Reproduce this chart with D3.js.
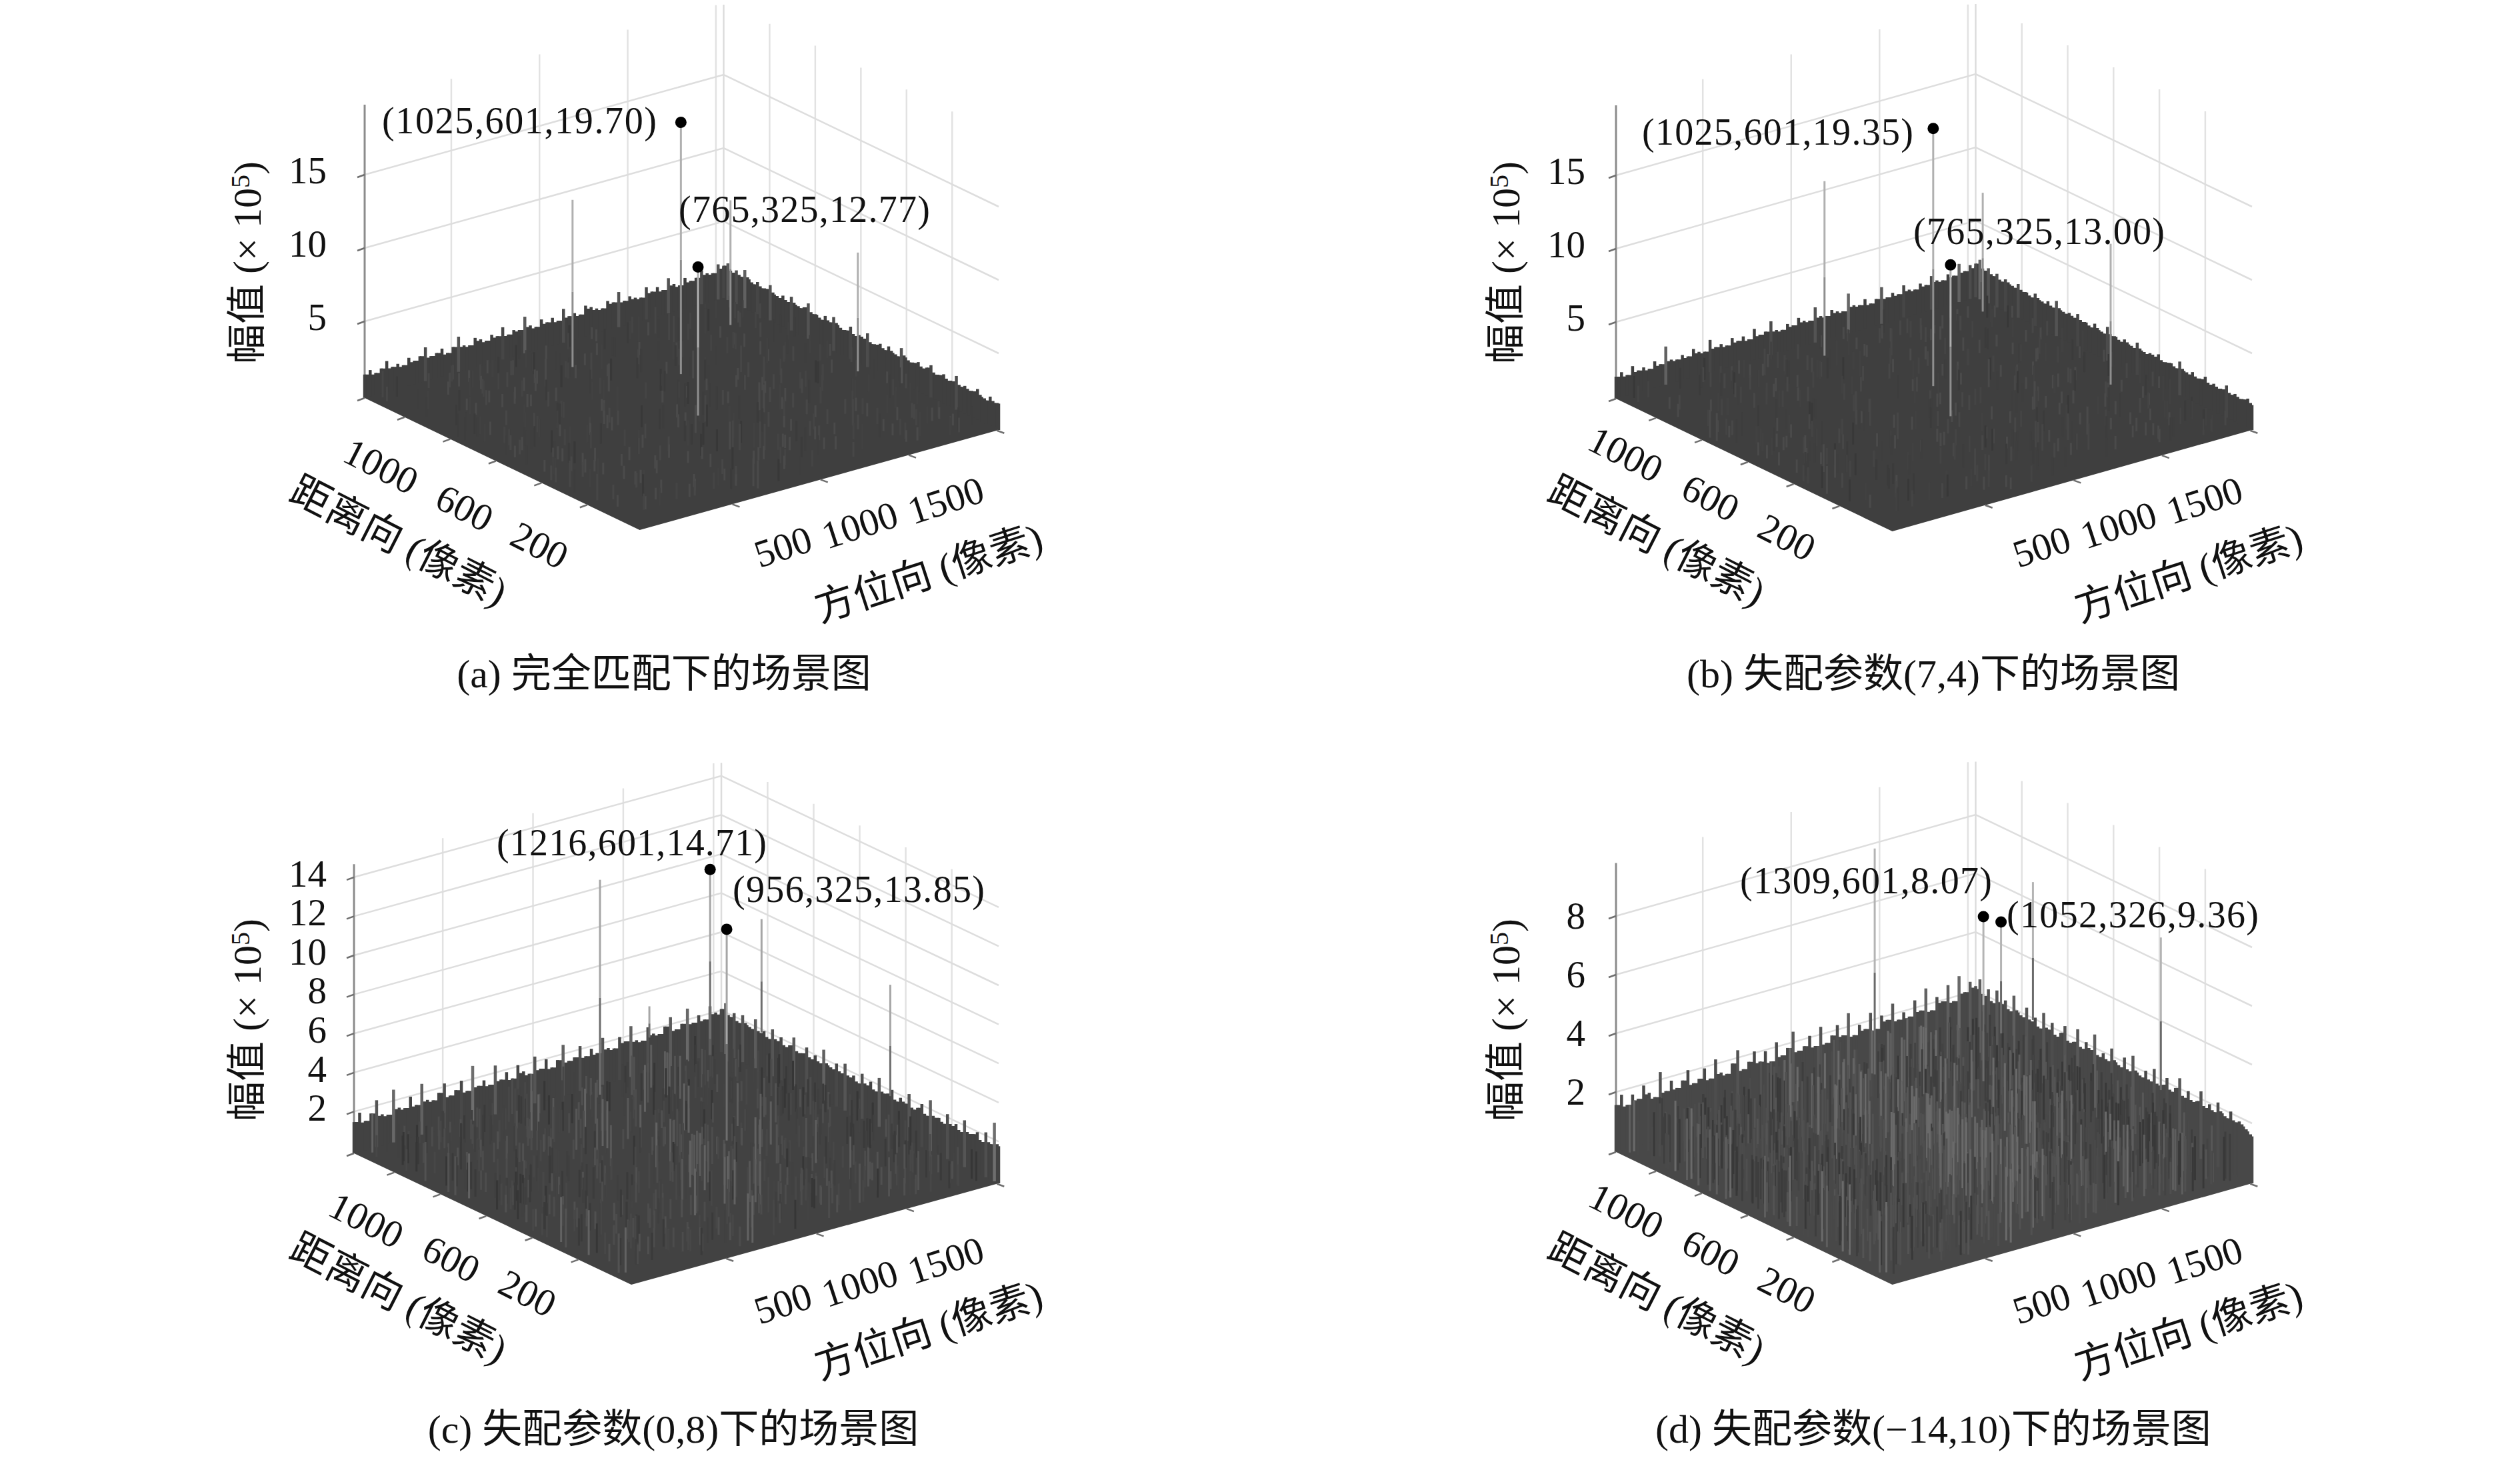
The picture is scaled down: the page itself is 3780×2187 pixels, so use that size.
<!DOCTYPE html>
<html>
<head>
<meta charset="utf-8">
<script src="https://cdn.jsdelivr.net/npm/d3@7"></script>
<style>
  body { margin: 0; background: #fff; }
  text { font-family: "Liberation Serif", "Noto Sans CJK SC", serif; fill: #111; }
</style>
</head>
<body>
<script>
// axis ticks
var azTicks = [500, 1000, 1500, 2000];
var azTickLabels = [500, 1000, 1500];
var rgTicks = [200, 400, 600, 800, 1000];
var rgTickLabels = [1000, 600, 200];
var zTicksAB = [5, 10, 15];
var zTicksC = [2, 4, 6, 8, 10, 12, 14];
var zTicksD = [2, 4, 6, 8];
var azDomain = [-25, 2010];
var rgDomain = [-30, 1175];

// tall scatterers: azimuth, range, top, where the line fades into the clutter (x10^5)
var peaksA = [[1025, 601, 19.70, 2.4], [765, 325, 12.77, 2.5], [689, 816, 13.8, 2.4], [1570, 805, 10.9, 2.4], [1680, 332, 10.5, 2.4]];
var peaksB = [[1025, 601, 19.35, 1.6], [765, 325, 13.00, 2.5], [689, 816, 15.1, 3.2], [1570, 805, 11.4, 3.3], [1680, 332, 11.1, 1.5]];
var peaksC = [[1216, 601, 14.71, 5.9], [956, 325, 13.85, 2.9], [880, 816, 13.7, 2.7], [1761, 805, 9.5, 3.7], [1871, 332, 8.5, 2.8], [1605, 1170, 3.4, 1.8]];
var peaksD = [[1309, 601, 8.07, 2.3], [1052, 326, 9.36, 5.4], [973, 816, 10.0, 2.3], [1854, 805, 7.4, 2.7], [1964, 332, 7.1, 1.9]];

// clutter heights along the far edges (x10^5): az edge runs left corner -> back, rg edge runs back -> right corner
var edgeAzA = [1.6,1.8,1.5,1.7,2.1,1.6,1.7,1.5,1.9,1.6,1.8,2.3,1.6,1.7,1.9,1.5,1.8,2.4,1.7,1.6,2.0,1.8,1.6,1.9,1.7,2.2,1.6,1.8,1.7,2.5,1.8,1.6,2.0,1.7,1.9,1.6,2.3,1.7,1.8,1.6,2.1,1.9,1.7,1.6,2.0,1.8,2.4,1.7,1.9,1.7,1.6,2.2,1.8,2.0,1.7,2.4,1.9,1.7,2.1,1.8,1.9,2.3,2.0,1.9,2.4,2.1];
var edgeRgA = [2.2,2.5,2.0,2.3,2.0,2.6,2.1,1.9,2.2,1.9,2.0,2.4,1.9,1.8,2.1,1.8,2.3,1.9,1.8,2.0,2.4,1.8,1.9,1.7,2.1,1.8,2.3,1.9,1.7,1.8,2.2,1.7,1.9,1.8,2.3,1.7,1.8,2.0,1.7,2.1,1.8,1.7,2.4,1.9,1.7,1.8,2.0,1.7,1.9,2.2,1.7,1.8,2.0,1.7,1.8,2.3,1.7,1.9,1.7,1.8,2.1,1.7,1.6,2.0,1.7,1.8];
var edgeAzB = [1.5,1.7,1.4,1.9,1.5,1.6,1.4,1.8,1.5,2.6,1.6,1.5,1.7,1.5,1.9,1.6,1.5,2.2,1.6,1.7,1.5,1.9,1.6,1.8,1.5,2.1,1.6,1.7,2.3,1.6,1.5,1.8,1.6,2.0,1.7,1.6,2.4,1.7,1.6,1.9,1.7,1.6,2.7,1.8,1.7,2.0,1.6,1.8,2.5,1.7,1.9,1.7,2.2,1.8,1.7,2.0,1.8,2.3,1.9,1.8,2.1,1.9,2.6,2.0,2.3,2.1];
var edgeRgB = [2.3,2.7,2.1,2.4,2.0,2.3,1.9,2.2,2.0,1.9,2.3,1.9,2.0,1.8,2.2,1.9,1.8,2.1,1.8,2.4,1.9,1.8,2.0,1.8,2.2,1.8,1.9,1.7,2.1,1.8,1.7,2.3,1.8,1.9,1.7,2.0,1.8,1.7,2.2,1.8,1.7,1.9,1.8,2.1,1.7,1.8,1.9,1.7,2.3,1.8,1.7,2.0,1.7,1.8,2.1,1.7,1.9,1.7,1.8,2.2,1.7,1.9,1.7,1.8,2.0,1.7];
var edgeAzC = [1.6,2.0,1.5,1.8,2.4,1.6,1.5,2.7,1.7,1.6,2.1,1.6,2.6,1.7,1.6,1.9,2.3,1.6,1.8,2.2,1.6,2.8,1.7,1.9,1.6,2.5,1.7,2.0,1.6,2.2,1.8,1.6,2.4,1.7,2.1,1.6,1.9,2.6,1.7,1.8,2.3,1.7,2.0,1.7,2.4,1.8,1.7,2.2,1.9,2.6,1.8,1.7,2.3,1.9,1.8,2.1,2.5,1.8,2.0,2.7,1.9,2.2,1.9,2.5,2.1,2.0];
var edgeRgC = [2.2,2.6,2.0,2.3,1.9,2.4,2.0,1.9,2.5,1.9,2.1,1.8,2.4,1.9,2.2,1.8,2.0,2.5,1.8,1.9,2.3,1.8,2.1,1.8,2.6,1.9,1.8,2.2,1.8,2.4,1.8,2.0,1.7,2.3,1.8,2.1,1.7,2.5,1.8,1.9,2.2,1.7,2.0,1.8,2.4,1.7,1.9,2.2,1.7,2.6,1.8,1.9,1.7,2.3,1.8,2.0,1.7,2.4,1.8,1.9,2.1,1.7,2.3,1.8,3.0,1.9];
var edgeAzD = [1.6,1.9,1.5,1.8,1.6,2.0,1.7,1.5,2.3,1.6,1.9,1.6,1.8,2.1,1.6,1.7,2.0,1.6,2.2,1.7,1.6,1.9,2.3,1.6,1.8,2.1,1.7,2.0,1.6,2.2,1.7,1.9,2.4,1.7,1.8,2.1,1.7,2.3,1.7,1.9,2.2,1.8,2.5,1.7,2.0,1.8,2.3,1.7,2.1,1.9,2.4,1.8,2.0,1.8,2.3,1.9,2.6,1.8,2.2,2.0,2.5,1.9,2.7,2.1,2.4,2.2];
var edgeRgD = [2.1,2.5,2.0,2.3,1.9,2.4,2.0,2.2,1.9,2.5,2.0,1.9,2.3,1.9,2.1,1.8,2.4,1.9,2.2,1.8,2.0,2.3,1.8,1.9,2.4,1.8,2.1,1.9,2.5,1.8,2.0,1.8,2.3,1.9,1.8,2.2,1.8,2.4,1.9,1.8,2.1,1.8,2.3,1.8,1.9,2.2,1.8,2.0,2.4,1.8,2.1,1.8,1.9,2.3,1.8,2.0,1.8,2.2,1.9,1.8,2.1,1.8,1.9,1.8,1.7,1.6];

// streaks inside the clutter carpet
var streakAz = [120,880,1530,340,1960,610,1210,45,1720,960,410,1390,780,1850,230,1090,1640,520,1300,70,
1480,690,1930,300,1150,850,1590,480,30,1770,1020,640,1350,190,1880,760,1440,370,920,1680,
550,1260,100,1990,820,1110,440,1570,260,1820,710,1400,150,990,1660,590,1240,20,1510,870,
330,1750,1040,470,1910,670,1330,210,1610,930,390,1180,1790,80,1460,750,1070,510,1860,280,
1550,800,1280,140,1700,1000,430,1950,620,1370,240,1130,1620,570,900,1840,60,1420,730,1200,
360,1740,1060,490,1900,650,1310,170,1500,950,310,1670,840,1230,110,1980,700,1380,540,1800,
1010,220,1580,400,1160,1890,780,1450,90,1290,1710,600,980,1520,250,1830,680,1100,460,1640];
var streakRg = [300,950,120,700,420,1080,560,210,860,30,1130,640,380,980,80,740,260,1010,470,590,
900,160,660,1060,340,820,50,530,1120,720,230,940,400,610,130,1040,280,780,500,1000,
90,670,870,360,1150,190,560,990,440,750,20,910,620,310,1090,450,140,800,680,1030,
240,540,960,110,720,380,1070,490,850,270,640,1010,170,430,580,1110,60,930,330,790,
1000,520,210,690,890,350,1140,40,610,760,460,1050,100,830,290,570,970,150,710,400,
1100,250,640,860,510,70,920,370,1020,180,730,480,300,1130,600,840,220,1060,410,120,
670,950,500,80,880,340,1090,560,770,200,1010,440,130,620,900,280,1070,730,390,530];
var streakZA = [1.2,0.9,1.6,1.1,0.8,1.4,1.0,1.8,0.9,1.3,1.1,0.8,1.7,1.0,1.2,1.5,0.9,1.1,1.9,0.8,
1.3,1.0,1.2,0.9,1.6,1.1,0.8,1.4,1.0,1.2,1.8,0.9,1.1,1.3,0.8,1.5,1.0,1.2,0.9,1.7,
1.1,0.8,1.4,1.0,1.6,0.9,1.2,1.1,0.8,1.3,1.9,1.0,0.9,1.5,1.1,1.2,0.8,1.6,1.0,1.3,
0.9,1.1,1.7,0.8,1.2,1.0,1.4,0.9,1.1,1.8,0.8,1.3,1.0,1.2,0.9,1.5,1.1,0.8,1.6,1.0,
1.2,1.4,0.9,1.1,0.8,1.7,1.0,1.3,0.9,1.2,1.5,0.8,1.1,1.0,1.9,0.9,1.3,1.1,0.8,1.4,
1.0,1.2,1.6,0.9,1.1,0.8,1.3,1.0,1.8,0.9,1.2,1.1,1.5,0.8,1.0,1.3,0.9,1.7,1.1,1.2,
0.8,1.4,1.0,0.9,1.6,1.1,1.2,0.8,1.3,1.0,1.5,0.9,1.1,1.8,0.8,1.2,1.0,1.4,0.9,1.1];
var streakZB = [1.0,1.4,0.8,1.2,1.7,0.9,1.1,1.5,0.8,1.3,1.0,1.9,0.9,1.2,1.1,0.8,1.6,1.0,1.3,0.9,
1.1,1.8,0.8,1.4,1.0,1.2,0.9,1.5,1.1,0.8,1.3,1.0,1.7,0.9,1.2,1.1,0.8,1.6,1.0,1.3,
0.9,1.4,1.1,0.8,1.2,1.8,1.0,0.9,1.5,1.1,0.8,1.3,1.6,1.0,0.9,1.2,1.1,1.9,0.8,1.0,
1.4,0.9,1.2,1.1,1.7,0.8,1.0,1.3,0.9,1.5,1.1,0.8,1.2,1.6,1.0,0.9,1.3,1.1,0.8,1.4,
1.0,0.9,1.8,1.2,1.1,0.8,1.5,1.0,1.3,0.9,1.1,1.7,0.8,1.2,1.0,1.4,0.9,1.6,1.1,0.8,
1.3,1.0,0.9,1.2,1.5,1.1,0.8,1.9,1.0,1.3,0.9,1.4,1.1,0.8,1.2,1.0,1.6,0.9,1.3,1.1,
1.7,0.8,1.2,1.0,0.9,1.4,1.1,1.5,0.8,1.3,1.0,0.9,1.6,1.1,1.2,0.8,1.8,1.0,1.3,0.9];
var streakZC = [1.4,1.0,2.0,1.2,0.9,1.7,1.1,2.3,1.0,1.5,1.3,0.9,2.1,1.1,1.4,1.8,1.0,1.3,2.4,0.9,
1.5,1.1,1.4,1.0,1.9,1.2,0.9,1.6,1.1,1.4,2.2,1.0,1.3,1.5,0.9,1.8,1.1,1.4,1.0,2.0,
1.3,0.9,1.7,1.1,1.9,1.0,1.4,1.2,0.9,1.5,2.4,1.1,1.0,1.8,1.2,1.4,0.9,2.0,1.1,1.5,
1.0,1.3,2.1,0.9,1.4,1.1,1.7,1.0,1.2,2.3,0.9,1.5,1.1,1.4,1.0,1.8,1.2,0.9,1.9,1.1,
1.4,1.7,1.0,1.3,0.9,2.1,1.1,1.5,1.0,1.4,1.8,0.9,1.2,1.1,2.4,1.0,1.5,1.3,0.9,1.7,
1.1,1.4,1.9,1.0,1.2,0.9,1.5,1.1,2.2,1.0,1.4,1.3,1.8,0.9,1.1,1.5,1.0,2.0,1.2,1.4,
0.9,1.7,1.1,1.0,1.9,1.3,1.4,0.9,1.5,1.1,1.8,1.0,1.3,2.2,0.9,1.4,1.1,1.7,1.0,1.2];
var streakZD = [1.5,1.1,2.1,1.3,1.0,1.8,1.2,2.4,1.1,1.6,1.4,1.0,2.2,1.2,1.5,1.9,1.1,1.4,2.5,1.0,
1.6,1.2,1.5,1.1,2.0,1.3,1.0,1.7,1.2,1.5,2.3,1.1,1.4,1.6,1.0,1.9,1.2,1.5,1.1,2.1,
1.4,1.0,1.8,1.2,2.0,1.1,1.5,1.3,1.0,1.6,2.5,1.2,1.1,1.9,1.3,1.5,1.0,2.1,1.2,1.6,
1.1,1.4,2.2,1.0,1.5,1.2,1.8,1.1,1.3,2.4,1.0,1.6,1.2,1.5,1.1,1.9,1.3,1.0,2.0,1.2,
1.5,1.8,1.1,1.4,1.0,2.2,1.2,1.6,1.1,1.5,1.9,1.0,1.3,1.2,2.5,1.1,1.6,1.4,1.0,1.8,
1.2,1.5,2.0,1.1,1.3,1.0,1.6,1.2,2.3,1.1,1.5,1.4,1.9,1.0,1.2,1.6,1.1,2.1,1.3,1.5,
1.0,1.8,1.2,1.1,2.0,1.4,1.5,1.0,1.6,1.2,1.9,1.1,1.4,2.3,1.0,1.5,1.2,1.8,1.1,1.3];

var panels = [
  { title: "(a) 完全匹配下的场景图", capX: 996, capY: 1010,
    L: [547, 597], F: [959.5, 795], R: [1498, 645], zUnit: 22, zMax: 20, gridDy: -5, peakDy: 3,
    zTicks: zTicksAB, zLabelX: 490, zLabelDy: -6, peaks: peaksA, edgeAz: edgeAzA, edgeRg: edgeRgA, streakZ: streakZA,
    fill: "#3f3f3f", streakCol: ["#4a4a4a", "#383838", "#5c5c5c"], layers: [0, 37, 71], peakTop: "#b0b0b0", peakLow: "#8e8e8e",
    notes: [["(1025,601,19.70)", 573, 985, 200], ["(765,325,12.77)", 1018, 1395, 333]],
    yLab: [371, 394], rgLab: [598, 812], azLab: [1393, 860],
    rgEnd: [[623, 726], [848, 838]], azEnd: [[1216, 807], [1474, 733]] },
  { title: "(b) 失配参数(7,4)下的场景图", capX: 2900, capY: 1010,
    L: [2424, 598], F: [2838.5, 797], R: [3378, 645], zUnit: 22, zMax: 20, gridDy: -5, peakDy: 4,
    zTicks: zTicksAB, zLabelX: 2378, zLabelDy: -6, peaks: peaksB, edgeAz: edgeAzB, edgeRg: edgeRgB, streakZ: streakZB,
    fill: "#3f3f3f", streakCol: ["#4a4a4a", "#383838", "#5c5c5c"], layers: [0, 37, 71], peakTop: "#b0b0b0", peakLow: "#8e8e8e",
    notes: [["(1025,601,19.35)", 2463, 2870, 217], ["(765,325,13.00)", 2870, 3247, 366]],
    yLab: [2259, 394], rgLab: [2485, 812], azLab: [3283, 860],
    rgEnd: [[2490, 708], [2719, 826]], azEnd: [[3104, 807], [3362, 733]] },
  { title: "(c) 失配参数(0,8)下的场景图", capX: 1010, capY: 2143,
    L: [531, 1730], F: [947, 1927], R: [1498, 1775], zUnit: 29.3, zMax: 14.8, gridDy: -4, peakDy: 4,
    zTicks: zTicksC, zLabelX: 490, zLabelDy: -5, peaks: peaksC, edgeAz: edgeAzC, edgeRg: edgeRgC, streakZ: streakZC,
    fill: "#424242", streakCol: ["#505050", "#363636", "#626262"], layers: [0, 19, 37, 71, 103], peakTop: "#a6a6a6", peakLow: "#6e6e6e",
    notes: [["(1216,601,14.71)", 745, 1150, 1283], ["(956,325,13.85)", 1099, 1477, 1353]],
    yLab: [371, 1530], rgLab: [598, 1948], azLab: [1393, 1996],
    rgEnd: [[601, 1857], [830, 1960]], azEnd: [[1216, 1942], [1474, 1873]] },
  { title: "(d) 失配参数(−14,10)下的场景图", capX: 2900, capY: 2143,
    L: [2424, 1728], F: [2838.5, 1927], R: [3378, 1775], zUnit: 44, zMax: 9.85, gridDy: -2, peakDy: 7,
    zTicks: zTicksD, zLabelX: 2378, zLabelDy: 0, peaks: peaksD, edgeAz: edgeAzD, edgeRg: edgeRgD, streakZ: streakZD,
    fill: "#484848", streakCol: ["#5a5a5a", "#383838", "#6a6a6a"], layers: [0, 11, 19, 37, 53, 71, 89, 103, 127], peakTop: "#b4b4b4", peakLow: "#6a6a6a",
    notes: [["(1309,601,8.07)", 2610, 2988, 1340], ["(1052,326,9.36)", 3010, 3388, 1391]],
    yLab: [2259, 1530], rgLab: [2485, 1948], azLab: [3283, 1996],
    rgEnd: [[2491, 1843], [2719, 1955]], azEnd: [[3104, 1942], [3362, 1873]] }
];

var svg = d3.select("body").append("svg").attr("width", 3780).attr("height", 2187);

panels.forEach(function(p, idx) {
  var g = svg.append("g");

  var azX = d3.scaleLinear().domain(azDomain).range([0, p.R[0] - p.F[0]]);
  var azY = d3.scaleLinear().domain(azDomain).range([0, p.R[1] - p.F[1]]);
  var rgX = d3.scaleLinear().domain(rgDomain).range([0, p.L[0] - p.F[0]]);
  var rgY = d3.scaleLinear().domain(rgDomain).range([0, p.L[1] - p.F[1]]);
  var zY = d3.scaleLinear().domain([0, 1]).range([0, -p.zUnit]);

  function project(az, rg, z) {
    return [p.F[0] + azX(az) + rgX(rg), p.F[1] + azY(az) + rgY(rg) + zY(z || 0)];
  }
  function segment(a, b, col, w) {
    g.append("line").attr("x1", a[0]).attr("y1", a[1]).attr("x2", b[0]).attr("y2", b[1])
      .attr("stroke", col).attr("stroke-width", w);
  }

  var azMax = azDomain[1], rgMax = rgDomain[1], azMin = azDomain[0], rgMin = rgDomain[0];

  // back walls
  var wallShift = 9;
  azTicks.forEach(function(t) {
    var a = project(t, rgMax, 0), b = project(t, rgMax, p.zMax);
    segment([a[0] - wallShift, a[1]], [b[0] - wallShift, b[1]], "#e2e2e2", 2.5);
  });
  rgTicks.forEach(function(t) {
    var a = project(azMax, t, 0), b = project(azMax, t, p.zMax);
    segment([a[0] + wallShift, a[1]], [b[0] + wallShift, b[1]], "#e2e2e2", 2.5);
  });
  segment(project(azMax, rgMax, 0), project(azMax, rgMax, p.zMax), "#dcdcdc", 2.5);

  p.zTicks.forEach(function(t) {
    var pts = [project(azMin, rgMax, t), project(azMax, rgMax, t), project(azMax, rgMin, t)]
      .map(function(q) { return [q[0], q[1] + p.gridDy]; });
    g.append("path").attr("d", d3.line()(pts)).attr("fill", "none").attr("stroke", "#dddddd").attr("stroke-width", 2.5);
  });

  // z axis
  segment(project(azMin, rgMax, 0), project(azMin, rgMax, p.zMax), "#8c8c8c", 3);

  // clutter carpet: far edges from the read heights, filled down to the near floor edges
  var nAz = p.edgeAz.length, nRg = p.edgeRg.length;
  var azPos = d3.scaleLinear().domain([0, nAz - 1]).range([azMin, azMax]);
  var rgPos = d3.scaleLinear().domain([0, nRg - 1]).range([rgMax, rgMin]);
  var topPts = [];
  p.edgeAz.forEach(function(z, i) {
    var low = i < nAz - 1 ? Math.min(z, p.edgeAz[i + 1]) : z;
    topPts.push(project(azPos(i), rgMax, low));
  });
  p.edgeRg.forEach(function(z, i) {
    var low = i < nRg - 1 ? Math.min(z, p.edgeRg[i + 1]) : z;
    topPts.push(project(azMax, rgPos(i), low));
  });
  var body = [project(azMin, rgMax, 0)].concat(topPts, [project(azMax, rgMin, 0), project(azMin, rgMin, 0)]);
  var bodyPath = d3.line()(stepPoints(body)) + "Z";

  function stepPoints(pts) {
    var out = [pts[0]];
    for (var i = 1; i < pts.length; i++) {
      if (i > 1 && i < pts.length - 2) out.push([pts[i][0], pts[i - 1][1]]);
      out.push(pts[i]);
    }
    return out;
  }

  g.append("path").attr("d", bodyPath).attr("fill", p.fill).attr("stroke", "none");

  var edgeCol = d3.scaleLinear().domain([2.1, 2.8]).range([p.fill, "#6e6e6e"]).clamp(true);
  p.edgeAz.forEach(function(z, i) {
    segment(project(azPos(i), rgMax, 0), project(azPos(i), rgMax, z), edgeCol(z), 4.5);
  });
  p.edgeRg.forEach(function(z, i) {
    segment(project(azMax, rgPos(i), 0), project(azMax, rgPos(i), z), edgeCol(z), 4.5);
  });

  // the carpet noise cannot be read bar by bar, so the estimated heights are laid
  // at a few range offsets to reach the density of each panel
  g.append("clipPath").attr("id", "carpet" + idx).append("path").attr("d", bodyPath);
  var streakCol = d3.scaleLinear().domain([0.9, 1.5, 2.3]).range(p.streakCol).clamp(true);
  var streaks = [];
  p.layers.forEach(function(k) {
    streakAz.forEach(function(az, i) {
      streaks.push([az, streakRg[(i + k) % streakRg.length], p.streakZ[i]]);
    });
  });
  streaks.sort(function(a, b) { return project(a[0], a[1])[1] - project(b[0], b[1])[1]; });
  g.append("g").attr("clip-path", "url(#carpet" + idx + ")")
    .selectAll("line").data(streaks).enter().append("line")
    .attr("x1", function(d) { return project(d[0], d[1], 0)[0]; })
    .attr("y1", function(d) { return project(d[0], d[1], 0)[1]; })
    .attr("x2", function(d) { return project(d[0], d[1], d[2])[0]; })
    .attr("y2", function(d) { return project(d[0], d[1], d[2])[1]; })
    .attr("stroke", function(d) { return streakCol(d[2]); })
    .attr("stroke-width", 3);

  // tall scatterers: lighter toward the tip
  p.peaks.forEach(function(d) {
    var mid = d[3] + (d[2] - d[3]) * 0.45;
    segment(project(d[0], d[1], mid), project(d[0], d[1], d[2]), p.peakTop, 3);
    segment(project(d[0], d[1], d[3]), project(d[0], d[1], mid), p.peakLow, 3);
  });

  // floor ticks
  rgTicks.forEach(function(t) {
    var a = project(azMin, t, 0);
    segment(a, [a[0] - 11, a[1] + 4], "#6e6e6e", 2.5);
  });
  azTicks.forEach(function(t) {
    var a = project(t, rgMin, 0);
    segment(a, [a[0] + 11, a[1] + 4], "#6e6e6e", 2.5);
  });
  p.zTicks.concat([0]).forEach(function(t) {
    var a = project(azMin, rgMax, t);
    segment([a[0], a[1] + (t ? p.gridDy : 0)], [a[0] - 11, a[1] + (t ? p.gridDy : 0) + 4], "#6e6e6e", 2.5);
  });

  // z tick labels
  p.zTicks.forEach(function(t) {
    var a = project(azMin, rgMax, t);
    g.append("text").attr("x", p.zLabelX).attr("y", a[1] + p.gridDy + p.zLabelDy)
      .attr("dy", "0.33em").attr("text-anchor", "end").attr("font-size", 57).text(t);
  });

  // floor tick labels, right end of each label sits on a line between two read end points
  var rgLabX = d3.scaleLinear().domain([1000, 200]).range([p.rgEnd[0][0], p.rgEnd[1][0]]);
  var rgLabY = d3.scaleLinear().domain([1000, 200]).range([p.rgEnd[0][1], p.rgEnd[1][1]]);
  rgTickLabels.forEach(function(t) {
    g.append("text").attr("transform", "translate(" + rgLabX(t) + "," + rgLabY(t) + ") rotate(27)")
      .attr("dy", "0.33em").attr("text-anchor", "end").attr("font-size", 58).text(t);
  });
  var azLabX = d3.scaleLinear().domain([500, 1500]).range([p.azEnd[0][0], p.azEnd[1][0]]);
  var azLabY = d3.scaleLinear().domain([500, 1500]).range([p.azEnd[0][1], p.azEnd[1][1]]);
  azTickLabels.forEach(function(t) {
    g.append("text").attr("transform", "translate(" + azLabX(t) + "," + azLabY(t) + ") rotate(-18)")
      .attr("dy", "0.33em").attr("text-anchor", "end").attr("font-size", 58).text(t);
  });

  // axis titles
  var yTitle = g.append("text").attr("transform", "translate(" + p.yLab[0] + "," + p.yLab[1] + ") rotate(-90)")
    .attr("text-anchor", "middle").attr("dy", "0.33em").attr("font-size", 60);
  yTitle.append("tspan").text("幅值 (× 10");
  yTitle.append("tspan").attr("dy", "-0.42em").attr("font-size", 40).text("5");
  yTitle.append("tspan").attr("dy", "0.3em").text(")");

  g.append("text").attr("transform", "translate(" + p.rgLab[0] + "," + p.rgLab[1] + ") rotate(27)")
    .attr("text-anchor", "middle").attr("dy", "0.33em").attr("font-size", 60).text("距离向 (像素)");
  g.append("text").attr("transform", "translate(" + p.azLab[0] + "," + p.azLab[1] + ") rotate(-18)")
    .attr("text-anchor", "middle").attr("dy", "0.33em").attr("font-size", 60).text("方位向 (像素)");

  // two marked maxima
  p.peaks.slice(0, 2).forEach(function(d) {
    var c = project(d[0], d[1], d[2]);
    g.append("circle").attr("cx", c[0]).attr("cy", c[1] + p.peakDy).attr("r", 8.5).attr("fill", "#000");
  });
  p.notes.forEach(function(n) {
    g.append("text").attr("x", n[1]).attr("y", n[3]).attr("font-size", 56)
      .attr("textLength", n[2] - n[1]).attr("lengthAdjust", "spacing").text(n[0]);
  });

  g.append("text").attr("x", p.capX).attr("y", p.capY).attr("dy", "0.35em")
    .attr("text-anchor", "middle").attr("font-size", 60).text(p.title);
});
</script>
</body>
</html>
